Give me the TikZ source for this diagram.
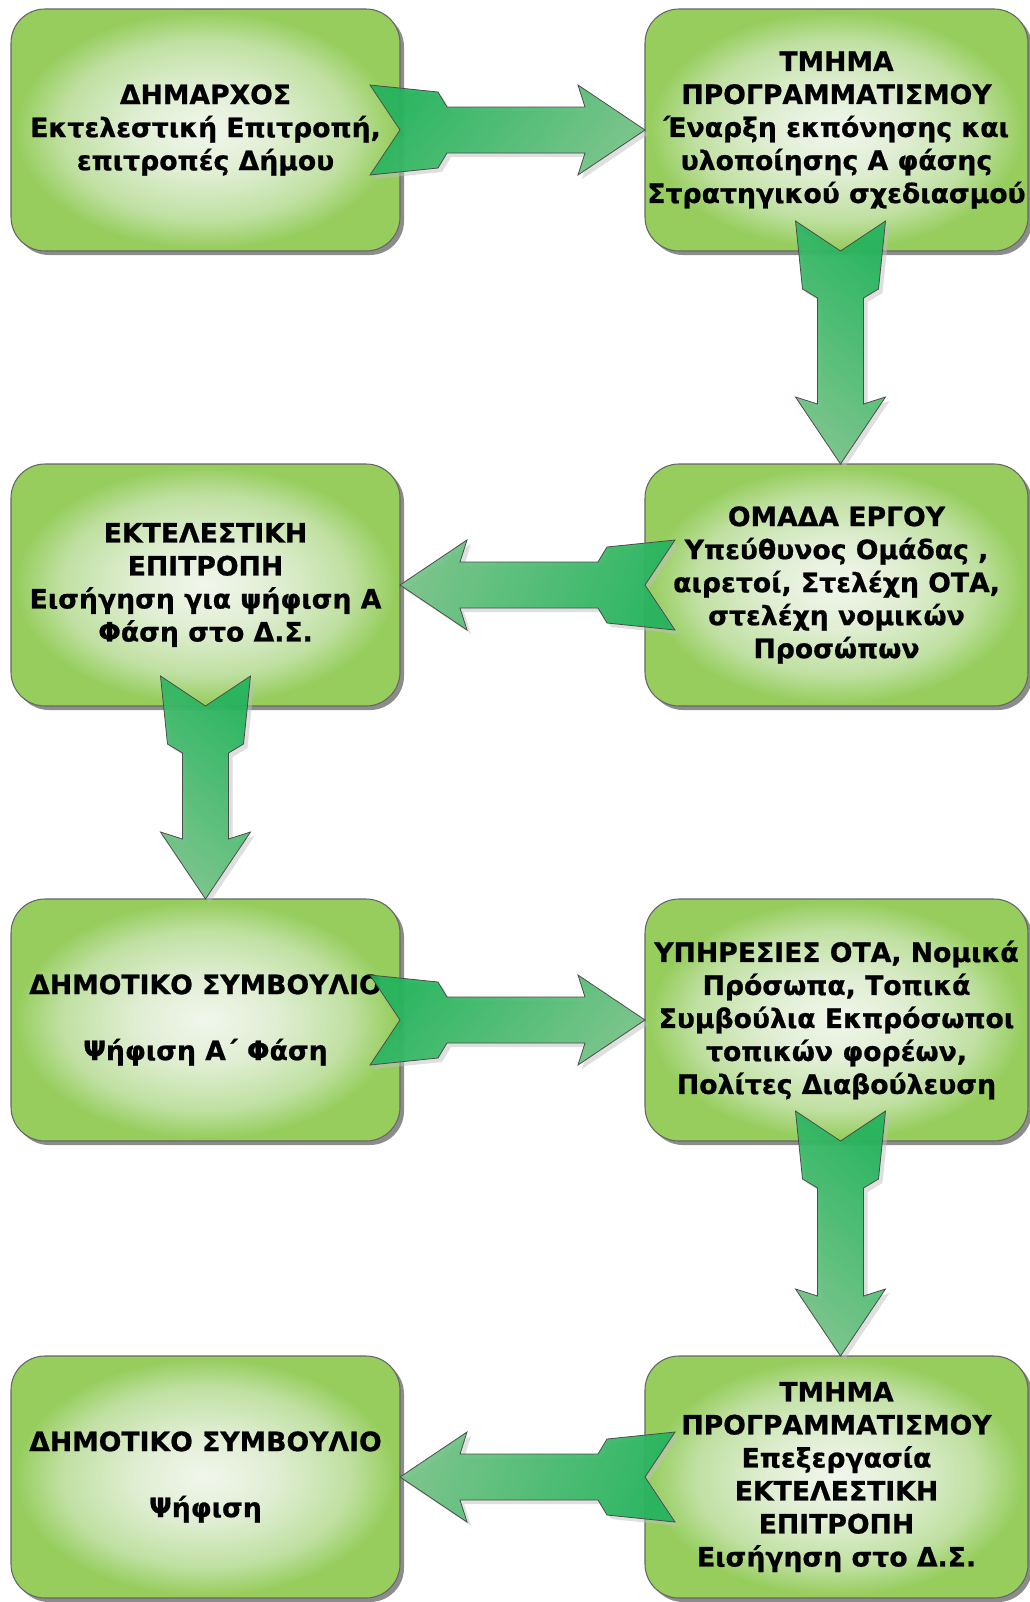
\documentclass[tikz,border=0pt]{standalone}
\usepackage{fontspec}
\setmainfont{DejaVu Sans}[BoldFeatures={FakeBold=0.8}]
\usetikzlibrary{calc,shadows}
\definecolor{bc0}{HTML}{F1F6EC}
\definecolor{bc1}{HTML}{E0EED3}
\definecolor{bc2}{HTML}{C0E0A2}
\definecolor{bc3}{HTML}{96CD5D}
\definecolor{adark}{HTML}{22B35A}
\definecolor{alight}{HTML}{72C385}
\pgfdeclareradialshading{boxshade}{\pgfpoint{0bp}{0bp}}{color(0bp)=(bc0); color(9bp)=(bc1); color(18.5bp)=(bc2); color(24.5bp)=(bc3); color(50bp)=(bc3)}
\newcommand\blockarrow[3]{%
 \draw[arrowbody,#3]
  ($(#1)!-22.5pt!(#2)!33.75pt!90:(#2)$) --
  ($(#1)!28.5pt!(#2)!28.5pt!90:(#2)$) --
  ($(#1)!35.25pt!(#2)!17.25pt!90:(#2)$) --
  ($(#2)!45pt!(#1)!17.25pt!-90:(#1)$) --
  ($(#2)!50.25pt!(#1)!33.75pt!-90:(#1)$) --
  (#2) --
  ($(#2)!50.25pt!(#1)!33.75pt!90:(#1)$) --
  ($(#2)!45pt!(#1)!17.25pt!90:(#1)$) --
  ($(#1)!35.25pt!(#2)!17.25pt!-90:(#2)$) --
  ($(#1)!28.5pt!(#2)!28.5pt!-90:(#2)$) --
  ($(#1)!-22.5pt!(#2)!33.75pt!-90:(#2)$) --
  (#1) -- cycle;}
\begin{document}
\begin{tikzpicture}[x=0.75pt,y=-0.75pt,
  box/.style={draw=black!60, line width=0.8pt, rounded corners=25.5pt,
    shading=boxshade, minimum height=181.5pt, inner sep=0pt, outer sep=0pt,
    align=center, font=\fontsize{20}{24.75}\selectfont\bfseries,
    drop shadow={shadow xshift=3pt, shadow yshift=-3pt, fill=black!60, opacity=0.75}},
  lbox/.style={box, minimum width=291.75pt},
  rbox/.style={box, minimum width=287.25pt},
  arrowbody/.style={draw=black!70, line width=0.6pt, fill opacity=0.93, line join=miter,
    drop shadow={shadow xshift=3pt, shadow yshift=-3pt, fill=black!25, opacity=0.5}},
  toright/.style={top color=adark, bottom color=alight, shading angle=50},
  todown/.style={top color=adark, bottom color=alight, shading angle=-40},
  toleft/.style={top color=adark, bottom color=alight, shading angle=-110}]
\useasboundingbox (0,0) rectangle (1030,1602);
\node[lbox] (b1) at (205.5,130) {ΔΗΜΑΡΧΟΣ\\Εκτελεστική Επιτροπή,\\επιτροπές Δήμου};
\node[rbox] (b2) at (836.5,130) {ΤΜΗΜΑ\\ΠΡΟΓΡΑΜΜΑΤΙΣΜΟΥ\\Έναρξη εκπόνησης και\\υλοποίησης Α φάσης\\Στρατηγικού σχεδιασμού};
\node[rbox] (b3) at (836.5,585) {ΟΜΑΔΑ ΕΡΓΟΥ\\Υπεύθυνος Ομάδας ,\\αιρετοί, Στελέχη ΟΤΑ,\\στελέχη νομικών\\Προσώπων};
\node[lbox] (b4) at (205.5,585) {ΕΚΤΕΛΕΣΤΙΚΗ\\ΕΠΙΤΡΟΠΗ\\Εισήγηση για ψήφιση Α\\Φάση στο Δ.Σ.};
\node[lbox] (b5) at (205.5,1020) {ΔΗΜΟΤΙΚΟ ΣΥΜΒΟΥΛΙΟ\\[24.75pt]Ψήφιση Α΄ Φάση};
\node[rbox] (b6) at (836.5,1020) {ΥΠΗΡΕΣΙΕΣ ΟΤΑ, Νομικά\\Πρόσωπα, Τοπικά\\Συμβούλια Εκπρόσωποι\\τοπικών φορέων,\\Πολίτες Διαβούλευση};
\node[rbox] (b7) at (836.5,1477) {ΤΜΗΜΑ\\ΠΡΟΓΡΑΜΜΑΤΙΣΜΟΥ\\Επεξεργασία\\ΕΚΤΕΛΕΣΤΙΚΗ\\ΕΠΙΤΡΟΠΗ\\Εισήγηση στο Δ.Σ.};
\node[lbox] (b8) at (205.5,1477) {ΔΗΜΟΤΙΚΟ ΣΥΜΒΟΥΛΙΟ\\[24.75pt]Ψήφιση};
\coordinate (a2s) at ($(b2.south)+(4,0)$);
\coordinate (a2e) at ($(b3.north)+(4,0)$);
\coordinate (a6s) at ($(b6.south)+(4,0)$);
\coordinate (a6e) at ($(b7.north)+(4,0)$);
\blockarrow{b1.east}{b2.west}{toright}
\blockarrow{a2s}{a2e}{todown}
\blockarrow{b3.west}{b4.east}{toleft}
\blockarrow{b4.south}{b5.north}{todown}
\blockarrow{b5.east}{b6.west}{toright}
\blockarrow{a6s}{a6e}{todown}
\blockarrow{b7.west}{b8.east}{toleft}
\end{tikzpicture}
\end{document}
